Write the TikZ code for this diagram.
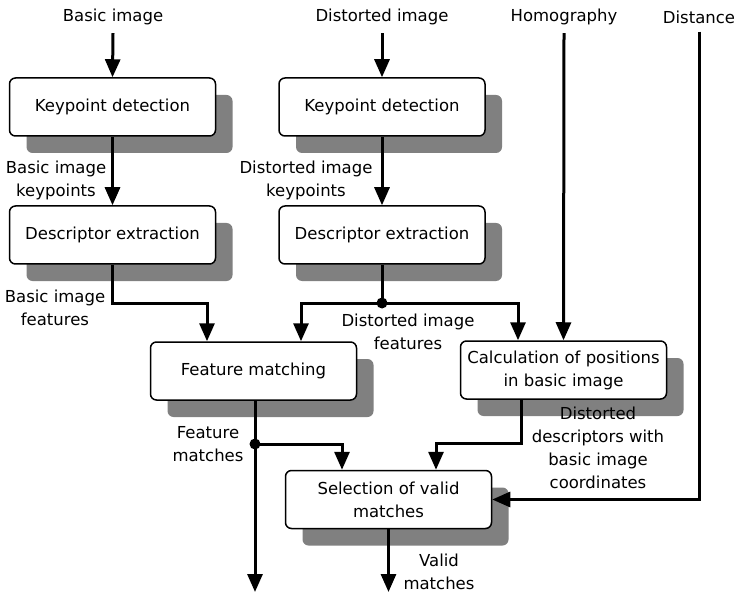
\documentclass[tikz,border=0pt]{standalone}
\usepackage{fontspec}
\setmainfont{DejaVu Sans}
\usetikzlibrary{arrows.meta,shadows,calc}
\definecolor{shadowgray}{RGB}{128,128,128}
\begin{document}
\begin{tikzpicture}[x=1pt,y=-1pt,
  font=\fontsize{16.5}{23}\selectfont,
  box/.style={draw=black, line width=1.5pt, rounded corners=6pt, fill=white,
    minimum width=206pt, minimum height=58pt, align=center, inner sep=2pt,
    drop shadow={shadow xshift=17pt, shadow yshift=-17pt, opacity=1, fill=shadowgray}},
  lbl/.style={align=center, inner sep=0pt},
  arr/.style={line width=3pt, -{Triangle[width=15pt,length=18pt]}},
  ln/.style={line width=3pt},
  dot/.style={circle, fill=black, inner sep=0pt, minimum size=11pt}]
\useasboundingbox (0,0) rectangle (735,593);

% top input labels
\node[lbl] (lbi) at (113,17) {Basic image};
\node[lbl] (ldi) at (382,17) {Distorted image};
\node[lbl] (lhom) at (564,17) {Homography};
\node[lbl] (ldist) at (699,17) {Distance};

% boxes
\node[box] (kd1) at (112.5,107) {Keypoint detection};
\node[box] (kd2) at (382,107) {Keypoint detection};
\node[box] (de1) at (112.5,235) {Descriptor extraction};
\node[box] (de2) at (382,235) {Descriptor extraction};
\node[box] (fm) at (253.5,371) {Feature matching};
\node[box] (cp) at (563.5,370) {Calculation of positions\\in basic image};
\node[box] (sv) at (388.5,499.5) {Selection of valid\\matches};

% edge labels
\node[lbl] (t1) at (56,180) {Basic image\\keypoints};
\node[lbl] (t2) at (306,180) {Distorted image\\keypoints};
\node[lbl] (t3) at (55,308) {Basic image\\features};
\node[lbl] (t4) at (408,332) {Distorted image\\features};
\node[lbl] (t5) at (208,444) {Feature\\matches};
\node[lbl] (t6) at (598,448) {Distorted\\descriptors with\\basic image\\coordinates};
\node[lbl] (t7) at (439,572) {Valid\\matches};

% junction coordinates
\coordinate (j1) at (112.5,303);
\coordinate (j2) at (382,303);
\coordinate (j3) at (255,444);
\coordinate (out1) at (255,592);
\coordinate (out2) at (388.5,592);

% connectors
\draw[arr] ([yshift=-8pt]lbi.south) -- (kd1.north);
\draw[arr] ([yshift=-8pt]ldi.south) -- (kd2.north);
\draw[arr] ([yshift=-8pt]lhom.south) -- (cp.north);
\draw[arr] ([yshift=-8pt]ldist.south) |- (sv.east);
\draw[arr] (kd1.south) -- (de1.north);
\draw[arr] (kd2.south) -- (de2.north);
\draw[arr] (de1.south) -- (j1) -| ([xshift=-46.5pt]fm.north);
\draw[ln] (de2.south) -- (j2);
\draw[arr] (j2) -| ([xshift=47.5pt]fm.north);
\draw[arr] (j2) -| ([xshift=-45.5pt]cp.north);
\draw[arr] (fm.south -| j3) -- (out1);
\draw[arr] (j3) -| ([xshift=-46.5pt]sv.north);
\draw[arr] ([xshift=-42.5pt]cp.south) -- ++(0,44) -| ([xshift=47.5pt]sv.north);
\draw[arr] (sv.south) -- (out2);

\node[dot] (dt1) at (j2) {};
\node[dot] (dt2) at (j3) {};
\end{tikzpicture}
\end{document}
